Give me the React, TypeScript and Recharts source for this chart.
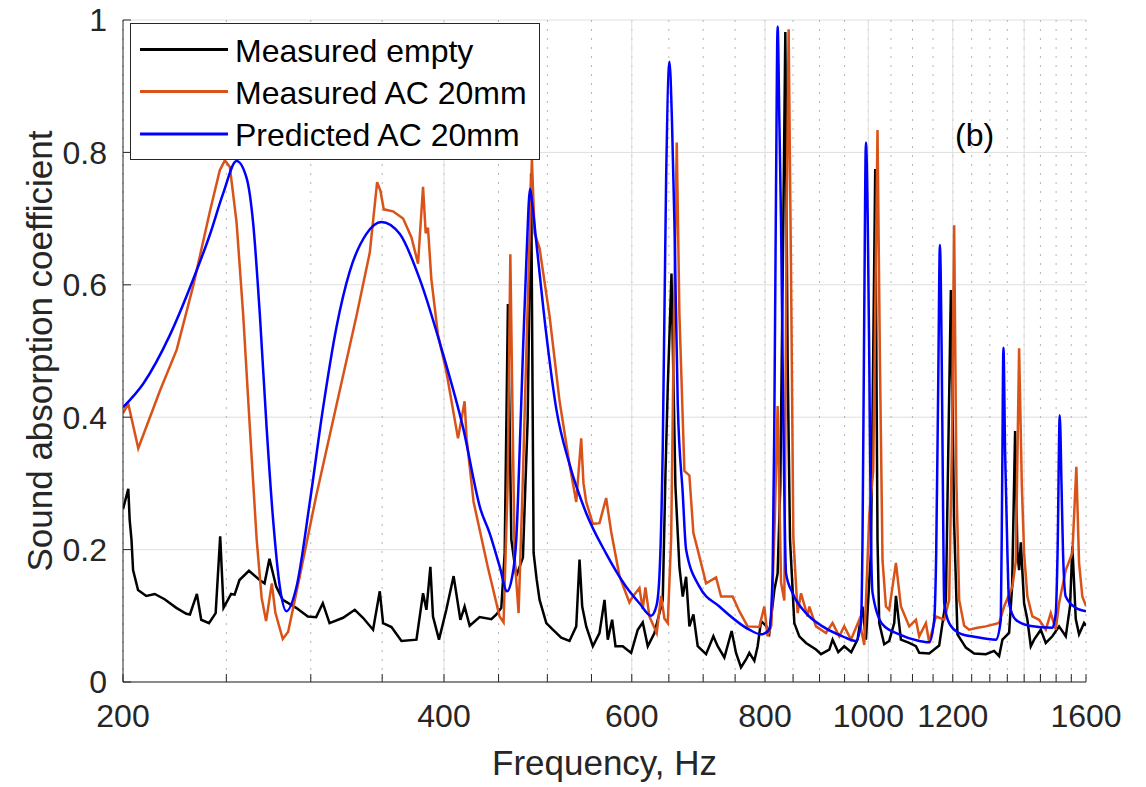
import React from "react";
import { LineChart, Line, XAxis, YAxis, CartesianGrid, ReferenceLine } from "recharts";

const FONT = '"Liberation Sans", Arial, Helvetica, sans-serif';
const INK = "#262626";

// axis ticks
const xTicks = [200, 250, 300, 350, 400, 450, 500, 550, 600, 650, 700, 750, 800, 850, 900, 950, 1000, 1050, 1100, 1150, 1200, 1250, 1300, 1350, 1400, 1450, 1500, 1550, 1600];
const xLabelled = [200, 400, 600, 800, 1000, 1200, 1600];
const xMajor = [400, 600, 800, 1000, 1200, 1400];
const yTicks = [0, 0.2, 0.4, 0.6, 0.8, 1];

// Measured empty
const emptyFreq = [200, 202.3, 202.9, 203.7, 204.4, 206.6, 210.3, 214.2, 218.8, 224.4, 229.3, 231.1, 234.6, 236.8, 240.8, 244.3, 246.7, 248.5, 252.6, 254.5, 257.2, 262.5, 268.6, 271.5, 274.4, 278.4, 282.4, 290.7, 298.1, 303.5, 307.9, 312.4, 321.7, 329.9, 335.8, 343.2, 348.2, 350.7, 357.1, 364.9, 376.9, 382.3, 385.1, 388.4, 390.6, 395.7, 402.0, 408.4, 414.4, 418.2, 422.8, 432.0, 443.1, 447.9, 452.7, 456.0, 459.2, 462.6, 467.6, 474.3, 479.2, 482.8, 485.4, 488.6, 491.7, 498.9, 506.0, 515.2, 524.5, 532.2, 536.0, 539.1, 543.8, 551.6, 559.6, 565.7, 569.7, 575.1, 579.3, 588.4, 599.2, 607.8, 614.4, 621.1, 630.1, 641.5, 645.3, 648.5, 653.7, 659.3, 665.0, 669.8, 674.7, 679.5, 685.4, 691.8, 704.4, 715.6, 722.3, 732.8, 744.4, 751.5, 759.6, 767.9, 773.4, 781.8, 787.4, 793.2, 801.8, 807.5, 816.3, 822.1, 826.9, 832.3, 835.9, 840.0, 844.4, 852.3, 861.5, 874.1, 893.1, 902.8, 919.1, 925.7, 937.1, 949.3, 963.7, 976.9, 987.5, 994.8, 1005.6, 1010.6, 1015.0, 1020.0, 1023.8, 1034.9, 1046.1, 1057.5, 1061.4, 1072.9, 1092.3, 1108.2, 1116.1, 1140.4, 1165.3, 1182.3, 1195.1, 1203.6, 1212.2, 1234.4, 1256.7, 1288.8, 1312.1, 1326.3, 1335.8, 1355.2, 1364.0, 1372.9, 1379.7, 1384.8, 1389.9, 1399.8, 1409.8, 1420.2, 1430.4, 1451.2, 1466.9, 1487.9, 1509.6, 1531.6, 1545.9, 1553.6, 1565.0, 1576.2, 1593.3, 1600];
const emptyAlpha = [0.261, 0.292, 0.245, 0.215, 0.169, 0.139, 0.13, 0.133, 0.125, 0.112, 0.103, 0.102, 0.133, 0.094, 0.089, 0.104, 0.22, 0.112, 0.133, 0.132, 0.154, 0.168, 0.154, 0.149, 0.186, 0.144, 0.124, 0.112, 0.099, 0.098, 0.119, 0.089, 0.097, 0.109, 0.097, 0.079, 0.137, 0.089, 0.083, 0.062, 0.064, 0.134, 0.109, 0.174, 0.099, 0.064, 0.109, 0.16, 0.094, 0.114, 0.085, 0.098, 0.095, 0.102, 0.112, 0.195, 0.571, 0.215, 0.16, 0.188, 0.396, 0.768, 0.195, 0.155, 0.124, 0.089, 0.079, 0.067, 0.062, 0.084, 0.185, 0.114, 0.084, 0.054, 0.074, 0.124, 0.064, 0.094, 0.054, 0.054, 0.044, 0.079, 0.09, 0.054, 0.074, 0.124, 0.316, 0.446, 0.617, 0.296, 0.174, 0.129, 0.159, 0.084, 0.102, 0.054, 0.042, 0.069, 0.054, 0.037, 0.077, 0.044, 0.022, 0.034, 0.044, 0.032, 0.054, 0.092, 0.085, 0.074, 0.139, 0.164, 0.296, 0.698, 0.982, 0.488, 0.215, 0.089, 0.069, 0.059, 0.049, 0.042, 0.049, 0.064, 0.045, 0.054, 0.045, 0.064, 0.114, 0.064, 0.195, 0.496, 0.775, 0.215, 0.089, 0.057, 0.062, 0.089, 0.13, 0.064, 0.059, 0.054, 0.044, 0.043, 0.055, 0.124, 0.592, 0.24, 0.072, 0.052, 0.043, 0.042, 0.047, 0.039, 0.064, 0.074, 0.144, 0.379, 0.195, 0.169, 0.211, 0.119, 0.094, 0.054, 0.064, 0.079, 0.059, 0.069, 0.084, 0.069, 0.115, 0.205, 0.095, 0.072, 0.089, 0.085];

// Measured AC 20mm
const acFreq = [200, 202.3, 206.7, 216.6, 224.6, 232.7, 241.3, 246.5, 249.2, 251.9, 255.6, 259.3, 263.0, 266.9, 269.8, 272.4, 275.8, 277.9, 282.4, 285.7, 293.0, 303.7, 317.1, 331.1, 340.8, 344.5, 346.2, 348.7, 351.2, 358.3, 366.2, 372.8, 378.2, 382.3, 384.5, 386.4, 389.2, 394.8, 402.0, 412.3, 418.2, 420.0, 426.4, 439.5, 451.0, 454.9, 458.9, 461.6, 463.9, 465.9, 469.9, 474.0, 477.8, 483.6, 486.4, 491.7, 502.4, 513.4, 524.5, 532.2, 537.9, 540.6, 543.8, 551.6, 559.6, 567.7, 573.9, 584.3, 596.9, 601.2, 610.0, 614.4, 617.9, 623.3, 633.2, 639.2, 643.8, 648.5, 653.3, 657.2, 661.2, 665.0, 672.2, 679.5, 685.4, 691.8, 704.4, 719.8, 727.6, 746.0, 756.8, 770.5, 790.2, 798.8, 804.5, 811.0, 817.1, 822.1, 828.2, 834.1, 838.2, 841.9, 846.2, 850.5, 858.4, 864.7, 877.1, 880.4, 893.1, 912.6, 925.7, 939.1, 949.3, 963.2, 980.6, 991.2, 1002.0, 1010.6, 1020.0, 1025.3, 1031.1, 1038.7, 1046.1, 1061.4, 1072.9, 1092.3, 1108.2, 1116.1, 1132.3, 1140.4, 1157.0, 1178.0, 1190.7, 1197.7, 1203.6, 1209.6, 1216.7, 1229.9, 1243.2, 1265.7, 1288.8, 1326.3, 1340.7, 1364.9, 1374.9, 1384.8, 1392.9, 1399.8, 1409.8, 1425.0, 1445.8, 1466.9, 1482.8, 1498.9, 1509.6, 1531.6, 1553.6, 1567.0, 1576.2, 1587.5, 1600];
const acAlpha = [0.406, 0.42, 0.353, 0.44, 0.502, 0.598, 0.711, 0.773, 0.788, 0.778, 0.694, 0.553, 0.385, 0.216, 0.127, 0.092, 0.149, 0.105, 0.065, 0.076, 0.16, 0.283, 0.418, 0.553, 0.649, 0.722, 0.755, 0.742, 0.714, 0.711, 0.7, 0.672, 0.632, 0.748, 0.678, 0.686, 0.609, 0.525, 0.469, 0.368, 0.424, 0.368, 0.272, 0.175, 0.099, 0.09, 0.295, 0.646, 0.396, 0.188, 0.104, 0.295, 0.496, 0.79, 0.678, 0.655, 0.553, 0.424, 0.329, 0.272, 0.368, 0.3, 0.272, 0.239, 0.24, 0.278, 0.227, 0.16, 0.12, 0.129, 0.142, 0.11, 0.143, 0.099, 0.074, 0.13, 0.096, 0.089, 0.218, 0.546, 0.815, 0.556, 0.319, 0.312, 0.225, 0.2, 0.149, 0.158, 0.129, 0.129, 0.107, 0.084, 0.083, 0.114, 0.069, 0.085, 0.245, 0.417, 0.15, 0.123, 0.692, 0.986, 0.624, 0.218, 0.104, 0.134, 0.099, 0.114, 0.084, 0.074, 0.089, 0.069, 0.084, 0.064, 0.094, 0.056, 0.251, 0.319, 0.834, 0.488, 0.184, 0.114, 0.109, 0.18, 0.114, 0.084, 0.094, 0.069, 0.089, 0.06, 0.099, 0.094, 0.124, 0.357, 0.69, 0.298, 0.124, 0.085, 0.079, 0.082, 0.084, 0.089, 0.114, 0.144, 0.182, 0.504, 0.298, 0.195, 0.129, 0.099, 0.094, 0.079, 0.104, 0.079, 0.119, 0.169, 0.195, 0.325, 0.18, 0.129, 0.115];

// Predicted AC 20mm
const predFreq = [200, 209.0, 221.3, 232.7, 241.3, 248.3, 255.6, 261.2, 264.9, 268.8, 272.7, 276.6, 280.6, 284.6, 290.9, 299.4, 308.0, 317.1, 326.3, 338.3, 349.4, 363.5, 379.5, 399.1, 416.7, 433.0, 441.4, 451.0, 458.4, 462.9, 467.6, 470.9, 474.3, 478.1, 481.7, 484.3, 488.2, 498.9, 509.7, 524.5, 543.8, 567.7, 592.7, 610.0, 625.6, 632.8, 636.9, 641.5, 646.2, 650.8, 654.4, 657.9, 662.6, 669.8, 674.7, 694.4, 725.0, 773.4, 793.2, 807.5, 813.3, 816.3, 819.3, 822.1, 825.2, 828.2, 832.3, 837.2, 849.2, 874.1, 905.9, 945.8, 973.6, 984.2, 987.5, 991.2, 994.8, 998.7, 1002.0, 1005.2, 1009.1, 1031.1, 1069.0, 1116.1, 1140.4, 1152.8, 1157.8, 1162.8, 1167.1, 1171.6, 1175.4, 1178.0, 1190.7, 1216.7, 1261.3, 1317.0, 1331.2, 1335.0, 1338.7, 1343.6, 1350.3, 1355.2, 1374.9, 1415.0, 1487.9, 1498.9, 1504.7, 1511.8, 1517.7, 1522.6, 1531.6, 1565.0, 1600];
const predAlpha = [0.415, 0.451, 0.524, 0.608, 0.676, 0.738, 0.787, 0.761, 0.693, 0.553, 0.385, 0.244, 0.144, 0.107, 0.144, 0.272, 0.413, 0.536, 0.62, 0.677, 0.695, 0.677, 0.609, 0.496, 0.385, 0.26, 0.225, 0.175, 0.137, 0.155, 0.216, 0.346, 0.496, 0.646, 0.745, 0.718, 0.665, 0.525, 0.413, 0.329, 0.255, 0.194, 0.144, 0.119, 0.1, 0.115, 0.16, 0.353, 0.76, 0.937, 0.848, 0.693, 0.421, 0.285, 0.2, 0.144, 0.114, 0.079, 0.072, 0.079, 0.164, 0.396, 0.748, 0.99, 0.848, 0.693, 0.396, 0.164, 0.134, 0.104, 0.084, 0.069, 0.062, 0.089, 0.215, 0.556, 0.815, 0.698, 0.488, 0.245, 0.135, 0.087, 0.072, 0.062, 0.06, 0.094, 0.195, 0.446, 0.66, 0.496, 0.245, 0.119, 0.089, 0.074, 0.068, 0.064, 0.094, 0.296, 0.505, 0.346, 0.195, 0.119, 0.094, 0.085, 0.082, 0.104, 0.195, 0.403, 0.296, 0.195, 0.129, 0.112, 0.107];

const zip = (f: number[], a: number[]) => f.map((x, i) => ({ f: x, a: a[i] }));
const emptyData = zip(emptyFreq, emptyAlpha);
const acData = zip(acFreq, acAlpha);
const predData = zip(predFreq, predAlpha);

const series = [
  { name: "Measured empty", color: "#000000" },
  { name: "Measured AC 20mm", color: "#D95319" },
  { name: "Predicted AC 20mm", color: "#0000FF" },
];
const legendRows = [49.5, 91.5, 134];

const tickStyle = { fontSize: 32, fill: INK, fontFamily: FONT };
const fmtX = (v: number) => (xLabelled.includes(v) ? String(v) : "");
const fmtY = (v: number) => String(v);
const blank = () => "";

function XTitle() {
  return (
    <text x={604.5} y={775} textAnchor="middle" fontSize={35} fill={INK} fontFamily={FONT}>
      Frequency, Hz
    </text>
  );
}

function YTitle() {
  return (
    <text x={0} y={0} transform="translate(52,351) rotate(-90)" textAnchor="middle" fontSize={35} fill={INK} fontFamily={FONT}>
      Sound absorption coefficient
    </text>
  );
}

function Overlay() {
  return (
    <svg width={1146} height={787} style={{ position: "absolute", left: 0, top: 0, pointerEvents: "none" }}>
      <rect x={130.5} y={23.5} width={409} height={136} fill="#ffffff" stroke={INK} strokeWidth={1} />
      {series.map((s, i) => (
        <g key={s.name}>
          <line x1={140} x2={228} y1={legendRows[i]} y2={legendRows[i]} stroke={s.color} strokeWidth={3} />
          <text x={235} y={legendRows[i] + 12} fontSize={32} fill="#000" fontFamily={FONT}>
            {s.name}
          </text>
        </g>
      ))}
      <text x={955} y={146} fontSize={32} fill="#000" fontFamily={FONT}>
        (b)
      </text>
    </svg>
  );
}

export default function App() {
  return (
    <div style={{ position: "relative", width: 1146, height: 787, background: "#fff", fontFamily: FONT }}>
      <style>{"body{margin:0}"}</style>
      <LineChart width={1146} height={787} margin={{ top: 20, right: 60, bottom: 0, left: 0 }}>
        <CartesianGrid vertical={false} stroke="#dfdfdf" />
        <CartesianGrid horizontal={false} stroke="#b5b5b5" strokeDasharray="2 7" />
        {xMajor.map((v) => (
          <ReferenceLine key={v} x={v} stroke="#dfdfdf" />
        ))}
        <XAxis
          dataKey="f"
          type="number"
          scale="log"
          domain={[200, 1600]}
          allowDataOverflow
          ticks={xTicks}
          interval={0}
          tickFormatter={fmtX}
          tickSize={-8}
          tickMargin={30}
          height={105}
          stroke={INK}
          tick={tickStyle}
          label={<XTitle />}
        />
        <XAxis
          xAxisId="top"
          orientation="top"
          dataKey="f"
          type="number"
          scale="log"
          domain={[200, 1600]}
          allowDataOverflow
          ticks={xTicks}
          interval={0}
          tickFormatter={blank}
          tickSize={-8}
          height={0}
          stroke={INK}
        />
        <YAxis
          type="number"
          domain={[0, 1]}
          ticks={yTicks}
          interval={0}
          tickFormatter={fmtY}
          tickSize={-8}
          tickMargin={24}
          width={123}
          stroke={INK}
          tick={tickStyle}
          label={<YTitle />}
        />
        <YAxis
          yAxisId="right"
          orientation="right"
          type="number"
          domain={[0, 1]}
          ticks={yTicks}
          interval={0}
          tickFormatter={blank}
          tickSize={-8}
          width={0}
          stroke={INK}
        />
        <Line data={emptyData} dataKey="a" type="linear" stroke={series[0].color} strokeWidth={2.5} dot={false} activeDot={false} isAnimationActive={false} />
        <Line data={acData} dataKey="a" type="linear" stroke={series[1].color} strokeWidth={2.5} dot={false} activeDot={false} isAnimationActive={false} />
        <Line data={predData} dataKey="a" type="monotone" stroke={series[2].color} strokeWidth={2.5} dot={false} activeDot={false} isAnimationActive={false} />
      </LineChart>
      <Overlay />
    </div>
  );
}
